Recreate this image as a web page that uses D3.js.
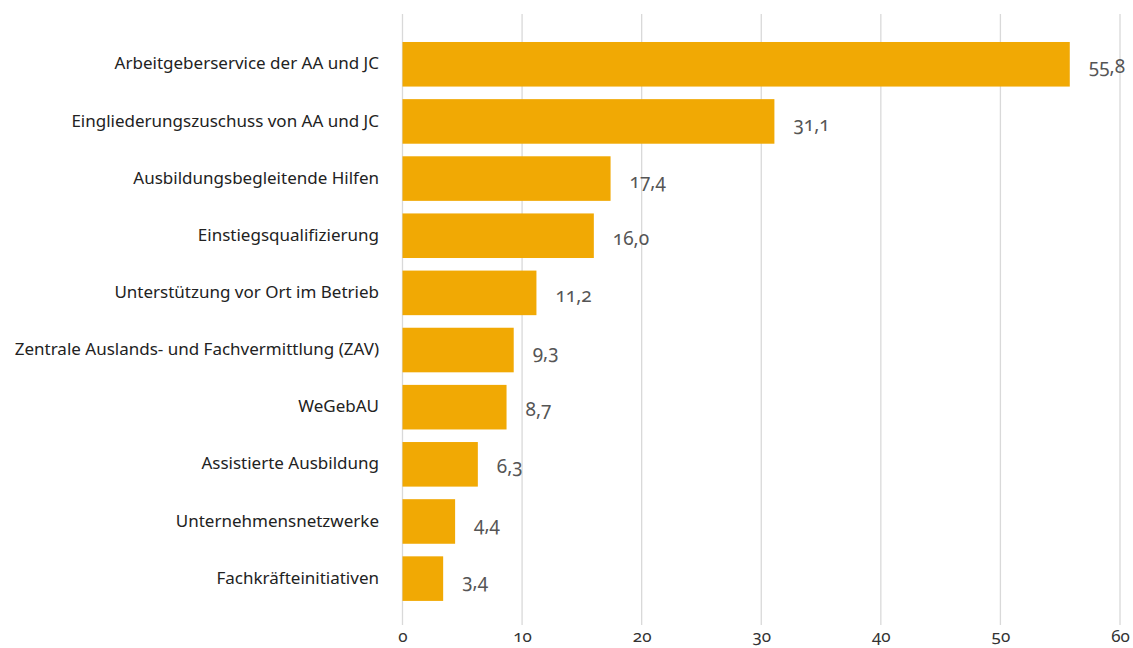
<!DOCTYPE html>
<html>
<head>
<meta charset="utf-8">
<script src="https://cdn.jsdelivr.net/npm/d3@7"></script>
<style>
  html, body { margin: 0; padding: 0; background: #fff; }
  svg { display: block; font-family: "Noto Sans", sans-serif; font-variant-numeric: oldstyle-nums; }
</style>
</head>
<body>
<div id="chart"></div>
<script>
const categories = [
  "Arbeitgeberservice der AA und JC",
  "Eingliederungszuschuss von AA und JC",
  "Ausbildungsbegleitende Hilfen",
  "Einstiegsqualifizierung",
  "Unterstützung vor Ort im Betrieb",
  "Zentrale Auslands- und Fachvermittlung (ZAV)",
  "WeGebAU",
  "Assistierte Ausbildung",
  "Unternehmensnetzwerke",
  "Fachkräfteinitiativen"
];
const values = [55.8, 31.1, 17.4, 16.0, 11.2, 9.3, 8.7, 6.3, 4.4, 3.4];
const xTicks = [0, 10, 20, 30, 40, 50, 60];

const W = 1133, H = 648;
const fmt = v => d3.format(".1f")(v).replace(".", ",");

const svg = d3.select("#chart").append("svg")
  .attr("width", W).attr("height", H);

const x = d3.scaleLinear().domain([0, 60]).range([402.5, 1120]);
const y = d3.scaleBand()
  .domain(categories)
  .range([35.7, 607.2])
  .paddingInner(0.22)
  .paddingOuter(0.11);

// gridlines
svg.append("g")
  .selectAll("line")
  .data(xTicks)
  .join("line")
    .attr("x1", d => x(d)).attr("x2", d => x(d))
    .attr("y1", 14).attr("y2", 625)
    .attr("stroke", "#d9d9d9")
    .attr("stroke-width", 1.3);

// x tick labels
svg.append("g")
  .attr("transform", "translate(0,625)")
  .call(d3.axisBottom(x).tickValues(xTicks).tickSize(0).tickPadding(5).tickFormat(d => d))
  .call(ax => ax.select(".domain").remove())
  .call(ax => ax.selectAll("text")
    .attr("font-family", "Noto Sans, sans-serif")
    .attr("font-size", 17)
    .attr("fill", "#333"));

// bars
svg.append("g")
  .selectAll("rect")
  .data(values)
  .join("rect")
    .attr("x", x(0))
    .attr("y", (d, i) => y(categories[i]))
    .attr("width", d => x(d) - x(0))
    .attr("height", y.bandwidth())
    .attr("fill", "#f1a904");

// category labels
svg.append("g")
  .selectAll("text")
  .data(categories)
  .join("text")
    .attr("x", 379)
    .attr("y", d => y(d) + y.bandwidth() / 2)
    .attr("dy", "0.3em")
    .attr("text-anchor", "end")
    .attr("font-size", 17)
    .attr("fill", "#222")
    .text(d => d);

// value labels
svg.append("g")
  .selectAll("text")
  .data(values)
  .join("text")
    .attr("x", d => x(d) + 19)
    .attr("y", (d, i) => y(categories[i]) + y.bandwidth() / 2 + 3)
    .attr("dy", "0.32em")
    .attr("font-size", 19)
    .attr("fill", "#555")
    .text(d => fmt(d));
</script>
</body>
</html>
